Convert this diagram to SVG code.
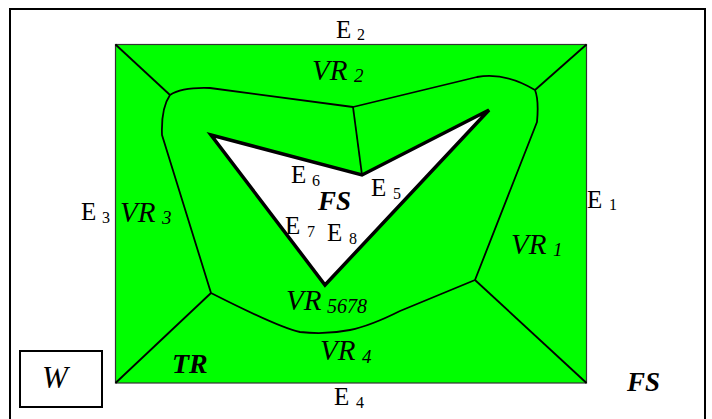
<svg xmlns="http://www.w3.org/2000/svg" width="712" height="419" viewBox="0 0 712 419">
<style>
.e{font-family:"Liberation Serif","Times New Roman",serif;font-size:25px;fill:#000}
.s{font-size:16px}
.vr{font-family:"Liberation Serif","Times New Roman",serif;font-style:italic;font-size:29px;fill:#000}
.vs{font-size:19px}
.bi{font-family:"Liberation Serif","Times New Roman",serif;font-style:italic;font-weight:bold;font-size:27px;fill:#000}
.ln{fill:none;stroke:#000;stroke-width:1.8;stroke-linejoin:round}
</style>
<rect width="712" height="419" fill="#fff"/>
<rect id="frame" x="10" y="9" width="695" height="420" fill="none" stroke="#000" stroke-width="2"/>
<g id="region">
<rect x="115.5" y="44.5" width="471" height="338.5" fill="#00ff00" stroke="#333" stroke-width="1.2"/>
</g>
<g id="connectors">
<path class="ln" d="M170,95 Q182,87 210,88 L353,107 L477,77 Q505,72 535,90 Q539,100 537,122 L475,280 L400,311 Q370,326 350,330 Q325,335 300,332 Q280,328 211,293 L162,135 Q161,108 170,95 Z"/>
<line class="ln" x1="115.5" y1="44.5" x2="170" y2="95"/>
<line class="ln" x1="586.5" y1="44.5" x2="535" y2="90"/>
<line class="ln" x1="115.5" y1="383" x2="211" y2="293"/>
<line class="ln" x1="586.5" y1="383" x2="475" y2="280"/>
<line class="ln" x1="353" y1="107" x2="362" y2="175"/>
</g>
<g id="fs-polygon">
<polygon points="211,135 362,175 489,110 325,285" fill="#fff" stroke="#000" stroke-width="3.5" stroke-linejoin="miter"/>
</g>
<g id="w-box">
<rect x="20" y="351" width="82" height="56" fill="#fff" stroke="#000" stroke-width="2"/>
<text class="vr" x="42" y="388" style="font-size:31px">W</text>
</g>
<g id="labels">
<text class="e" x="336" y="38">E<tspan class="s" x="357" y="40">2</tspan></text>
<text class="e" x="587" y="208">E<tspan class="s" x="609" y="210">1</tspan></text>
<text class="e" x="81" y="220">E<tspan class="s" x="102" y="223">3</tspan></text>
<text class="e" x="291" y="183">E<tspan class="s" x="312" y="186">6</tspan></text>
<text class="e" x="371" y="196">E<tspan class="s" x="393" y="199">5</tspan></text>
<text class="e" x="285" y="234">E<tspan class="s" x="307" y="237">7</tspan></text>
<text class="e" x="327" y="241">E<tspan class="s" x="349" y="244">8</tspan></text>
<text class="e" x="334" y="405">E<tspan class="s" x="356" y="408">4</tspan></text>
<text class="vr" x="312" y="80">VR<tspan class="vs" x="354" y="82">2</tspan></text>
<text class="vr" x="120" y="222">VR<tspan class="vs" x="162" y="224">3</tspan></text>
<text class="vr" x="511" y="254">VR<tspan class="vs" x="553" y="256">1</tspan></text>
<text class="vr" x="286" y="310">VR<tspan class="vs" x="327" y="313" style="font-size:20px">5678</tspan></text>
<text class="vr" x="320" y="360">VR<tspan class="vs" x="362" y="363">4</tspan></text>
<text class="bi" x="318" y="210">FS</text>
<text class="bi" x="627" y="391">FS</text>
<text class="bi" x="172" y="373" style="font-size:28px">TR</text>
</g>
</svg>
